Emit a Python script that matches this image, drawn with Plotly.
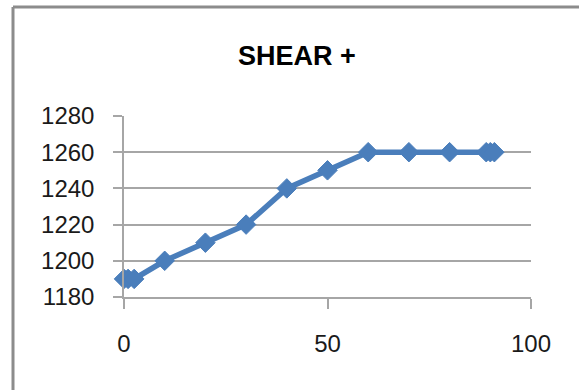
import plotly.graph_objects as go

# Shear response data
x_vals = [0, 1, 2.5, 10, 20, 30, 40, 50, 60, 70, 80, 89, 90, 91]
y_vals = [1190, 1190, 1190, 1200, 1210, 1220, 1240, 1250, 1260, 1260, 1260, 1260, 1260, 1260]
chart_title = "SHEAR +"
x_ticks = [0, 50, 100]
y_ticks = [1180, 1200, 1220, 1240, 1260, 1280]

W, H = 579, 390
L, R, T, B = 124, 48, 116, 93
FONT = "Liberation Sans"
BLUE = "#4a7ebb"
GRID = "#a6a6a6"

fig = go.Figure(
    go.Scatter(
        x=x_vals,
        y=y_vals,
        mode="lines+markers",
        line=dict(color=BLUE, width=5.5),
        marker=dict(symbol="diamond", size=15, color=BLUE, line=dict(color=BLUE, width=1)),
        showlegend=False,
        cliponaxis=False,
    )
)

# outer chart frame (left and top edges visible)
pw = W - L - R
ph = H - T - B
fx = lambda px: (px - L) / pw
fy = lambda py: (H - B - py) / ph
fig.add_shape(type="line", xref="paper", yref="paper",
              x0=fx(13), x1=fx(W + 10), y0=fy(7), y1=fy(7),
              line=dict(color="#8c8c8c", width=3))
fig.add_shape(type="line", xref="paper", yref="paper",
              x0=fx(13), x1=fx(13), y0=fy(7), y1=fy(H + 10),
              line=dict(color="#8c8c8c", width=3))

fig.update_layout(
    width=W,
    height=H,
    margin=dict(l=L, r=R, t=T, b=B),
    paper_bgcolor="white",
    plot_bgcolor="white",
    title=dict(
        text="<b>" + chart_title + "</b>",
        x=297 / W,
        xanchor="center",
        y=1 - 56 / H,
        yanchor="middle",
        font=dict(family=FONT, size=27, color="#000000"),
    ),
    font=dict(family=FONT, size=24, color="#1a1a1a"),
)

fig.update_xaxes(
    range=[0, 100],
    tickvals=x_ticks,
    ticks="outside",
    ticklen=10,
    tickwidth=1.5,
    tickcolor=GRID,
    showline=True,
    linecolor=GRID,
    linewidth=1.5,
    showgrid=False,
    zeroline=False,
    ticklabelstandoff=14,
    tickfont=dict(family=FONT, size=24, color="#1a1a1a"),
)
fig.update_yaxes(
    range=[1180, 1280],
    tickvals=y_ticks,
    ticks="outside",
    ticklen=9,
    tickwidth=1.5,
    tickcolor=GRID,
    showline=True,
    linecolor=GRID,
    linewidth=1.5,
    showgrid=True,
    gridcolor=GRID,
    gridwidth=1.5,
    zeroline=False,
    ticklabelstandoff=14,
    tickfont=dict(family=FONT, size=24, color="#1a1a1a"),
)

fig.write_html("out.html")
